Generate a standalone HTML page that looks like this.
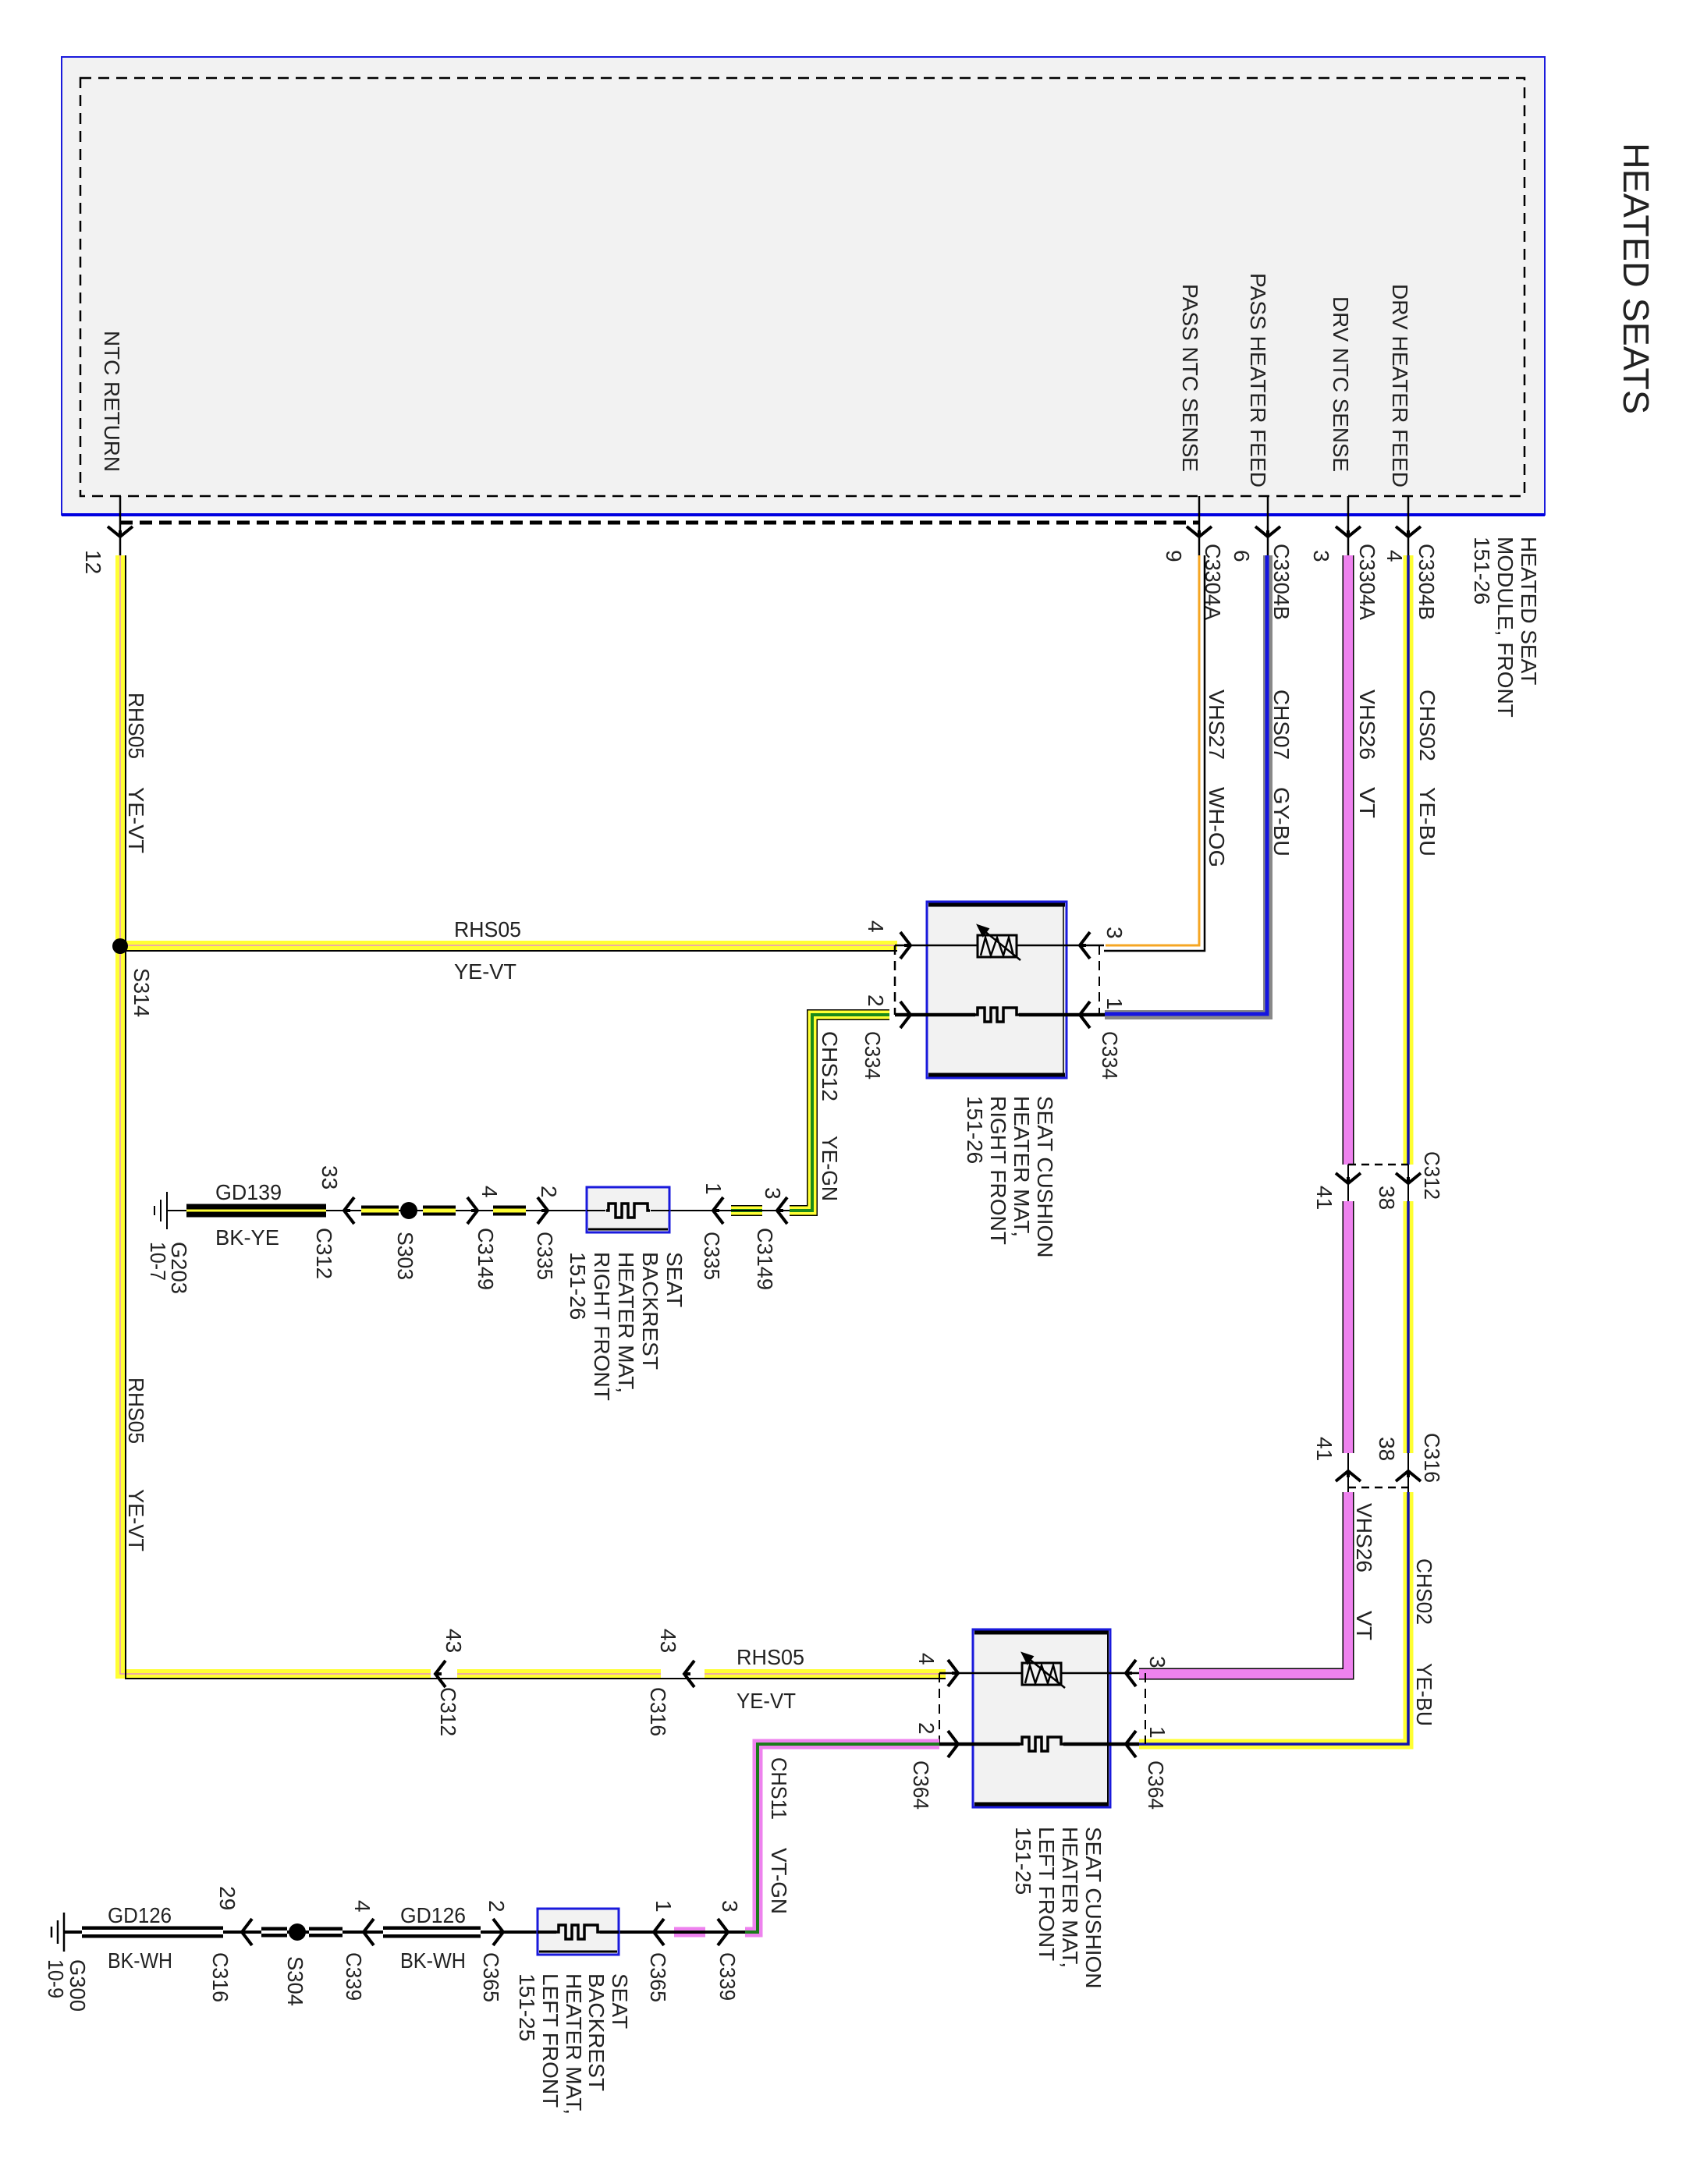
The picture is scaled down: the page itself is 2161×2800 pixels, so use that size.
<!DOCTYPE html>
<html><head><meta charset="utf-8"><style>
html,body{margin:0;padding:0;background:#fff}
svg{display:block}
text{font-family:"Liberation Sans",Arial,sans-serif;fill:#222;font-size:28px}
</style></head><body>
<svg width="2161" height="2800" viewBox="0 0 2161 2800" xmlns="http://www.w3.org/2000/svg">
<defs>
<path id="al" d="M13,-17 L0,0 L13,17 M0,0 H8" fill="none" stroke="#000" stroke-width="4"/>
<path id="ar" d="M-13,-17 L0,0 L-13,17 M0,0 H-8" fill="none" stroke="#000" stroke-width="4"/>
<path id="ad" d="M-16,-13 L0,0 L16,-13 M0,0 V-8" fill="none" stroke="#000" stroke-width="4"/>
<path id="au" d="M-16,13 L0,0 L16,13 M0,0 V8" fill="none" stroke="#000" stroke-width="4"/>
<path id="heat" d="M-28,0 H-25 V-9 H-16 V9 H-8 V-9 H0 V9 H8 V-9 H25 V0 H28" fill="none" stroke="#000" stroke-width="3.5"/>
<g id="therm" fill="none" stroke="#000" stroke-width="3"><rect x="-25" y="-14" width="50" height="28"/><path d="M-21,12 L-15,-11 L-8,12 L0,-11 L8,12 L15,-11 L21,12" stroke-width="2.5"/><path d="M-22,-24 L30,18" stroke-width="2.5"/><path d="M-24,-26 L-12,-22 L-18,-14 Z" fill="#000"/></g>
</defs>

<rect x="79" y="73" width="1901" height="587" fill="#f2f2f2" stroke="#1a1adc" stroke-width="2"/>
<line x1="79" y1="660" x2="1980" y2="660" stroke="#0000e0" stroke-width="4"/>
<rect x="103" y="100" width="1851" height="536" fill="none" stroke="#000" stroke-width="2.5" stroke-dasharray="14,9"/>
<line x1="154" y1="670" x2="1537" y2="670" stroke="#000" stroke-width="5" stroke-dasharray="16,9"/>

<text transform="translate(2081,183) rotate(90)" style="font-size:46px" textLength="348" lengthAdjust="spacingAndGlyphs">HEATED SEATS</text>

<text transform="translate(134,424) rotate(90)" textLength="181" lengthAdjust="spacingAndGlyphs">NTC RETURN</text>
<text transform="translate(1516,364) rotate(90)" textLength="241" lengthAdjust="spacingAndGlyphs">PASS NTC SENSE</text>
<text transform="translate(1603,350) rotate(90)" textLength="275" lengthAdjust="spacingAndGlyphs">PASS HEATER FEED</text>
<text transform="translate(1709,380) rotate(90)" textLength="225" lengthAdjust="spacingAndGlyphs">DRV NTC SENSE</text>
<text transform="translate(1785,364) rotate(90)" textLength="261" lengthAdjust="spacingAndGlyphs">DRV HEATER FEED</text>

<g stroke="#000" stroke-width="2.5">
<line x1="154" y1="636" x2="154" y2="712"/><line x1="1537" y1="636" x2="1537" y2="712"/>
<line x1="1625" y1="636" x2="1625" y2="712"/><line x1="1728" y1="636" x2="1728" y2="712"/>
<line x1="1805" y1="636" x2="1805" y2="712"/>
</g>
<use href="#ad" x="154" y="688"/><use href="#ad" x="1537" y="688"/><use href="#ad" x="1625" y="688"/><use href="#ad" x="1728" y="688"/><use href="#ad" x="1805" y="688"/>

<text transform="translate(110,705) rotate(90)">12</text>
<text transform="translate(1495,705) rotate(90)">9</text>
<text transform="translate(1582,705) rotate(90)">6</text>
<text transform="translate(1684,705) rotate(90)">3</text>
<text transform="translate(1778,705) rotate(90)">4</text>
<text transform="translate(1545,697) rotate(90)" textLength="98" lengthAdjust="spacingAndGlyphs">C3304A</text>
<text transform="translate(1633,697) rotate(90)" textLength="98" lengthAdjust="spacingAndGlyphs">C3304B</text>
<text transform="translate(1743,697) rotate(90)" textLength="98" lengthAdjust="spacingAndGlyphs">C3304A</text>
<text transform="translate(1819,697) rotate(90)" textLength="98" lengthAdjust="spacingAndGlyphs">C3304B</text>
<text transform="translate(1950,688) rotate(90)">HEATED SEAT</text>
<text transform="translate(1920,688) rotate(90)">MODULE, FRONT</text>
<text transform="translate(1890,688) rotate(90)">151-26</text>

<g fill="none">
<path d="M154,712 V2146 H552" stroke="#ffff33" stroke-width="12"/>
<path d="M586,2146 H847 M903,2146 H1212 M154,1212 H1150" stroke="#ffff33" stroke-width="12"/>
<path d="M154,712 V2146 H552 M586,2146 H847 M903,2146 H1212 M154,1212 H1150" stroke="#e890c8" stroke-width="1.5"/>
<path d="M161,712 V2152 H1212 M161,1219 H1150" stroke="#000" stroke-width="2"/>
</g>
<circle cx="154" cy="1213" r="10" fill="#000"/>
<use href="#al" x="558" y="2146"/><use href="#al" x="877" y="2146"/>

<path d="M1537,712 V1212 H1417" fill="none" stroke="#f5a623" stroke-width="3"/>
<path d="M1544,712 V1219 H1415" fill="none" stroke="#000" stroke-width="2.5"/>
<path d="M1625,712 V1301 H1416" fill="none" stroke="#888" stroke-width="12"/>
<path d="M1624,712 V1300 H1416" fill="none" stroke="#1515e0" stroke-width="5"/>
<g fill="none">
<path d="M1728,712 V1493 M1728,1540 V1863 M1728,1913 V2146 H1460" stroke="#000" stroke-width="15"/>
<path d="M1728,712 V1493 M1728,1540 V1863 M1728,1913 V2146 H1460" stroke="#ee82ee" stroke-width="12"/>
<path d="M1728,1493 V1540 M1728,1863 V1913" stroke="#000" stroke-width="2"/>
</g>
<g fill="none">
<path d="M1805,712 V1493 M1805,1540 V1863 M1805,1913 V2236 H1460" stroke="#ffff33" stroke-width="13"/>
<path d="M1805,712 V1493 M1805,1540 V1863 M1805,1913 V2236 H1460" stroke="#1010b0" stroke-width="3.5"/>
<path d="M1805,1493 V1540 M1805,1863 V1913" stroke="#000" stroke-width="2"/>
</g>
<line x1="1728" y1="1493" x2="1805" y2="1493" stroke="#000" stroke-width="2.5" stroke-dasharray="10,7"/>
<use href="#ad" x="1728" y="1517"/><use href="#ad" x="1805" y="1517"/>
<line x1="1728" y1="1907" x2="1805" y2="1907" stroke="#000" stroke-width="2.5" stroke-dasharray="10,7"/>
<use href="#au" x="1728" y="1886"/><use href="#au" x="1805" y="1886"/>
<text transform="translate(1826,1476) rotate(90)" textLength="62" lengthAdjust="spacingAndGlyphs">C312</text>
<text transform="translate(1768,1520) rotate(90)">38</text>
<text transform="translate(1688,1520) rotate(90)">41</text>
<text transform="translate(1826,1837) rotate(90)" textLength="64" lengthAdjust="spacingAndGlyphs">C316</text>
<text transform="translate(1768,1842) rotate(90)">38</text>
<text transform="translate(1688,1842) rotate(90)">41</text>

<text transform="translate(165,888) rotate(90)" textLength="85" lengthAdjust="spacingAndGlyphs">RHS05</text>
<text transform="translate(165,1009) rotate(90)" textLength="85" lengthAdjust="spacingAndGlyphs">YE-VT</text>
<text transform="translate(1550,884) rotate(90)" textLength="90" lengthAdjust="spacingAndGlyphs">VHS27</text>
<text transform="translate(1550,1009) rotate(90)" textLength="103" lengthAdjust="spacingAndGlyphs">WH-OG</text>
<text transform="translate(1633,884) rotate(90)" textLength="90" lengthAdjust="spacingAndGlyphs">CHS07</text>
<text transform="translate(1633,1009) rotate(90)" textLength="89" lengthAdjust="spacingAndGlyphs">GY-BU</text>
<text transform="translate(1743,884) rotate(90)" textLength="90" lengthAdjust="spacingAndGlyphs">VHS26</text>
<text transform="translate(1743,1009) rotate(90)" textLength="40" lengthAdjust="spacingAndGlyphs">VT</text>
<text transform="translate(1820,884) rotate(90)" textLength="92" lengthAdjust="spacingAndGlyphs">CHS02</text>
<text transform="translate(1820,1009) rotate(90)" textLength="89" lengthAdjust="spacingAndGlyphs">YE-BU</text>
<text transform="translate(172,1241) rotate(90)" textLength="63" lengthAdjust="spacingAndGlyphs">S314</text>
<text x="582" y="1201" textLength="86" lengthAdjust="spacingAndGlyphs">RHS05</text>
<text x="582" y="1255" textLength="80" lengthAdjust="spacingAndGlyphs">YE-VT</text>
<text transform="translate(165,1766) rotate(90)" textLength="85" lengthAdjust="spacingAndGlyphs">RHS05</text>
<text transform="translate(165,1909) rotate(90)" textLength="80" lengthAdjust="spacingAndGlyphs">YE-VT</text>
<text transform="translate(1739,1927) rotate(90)" textLength="89" lengthAdjust="spacingAndGlyphs">VHS26</text>
<text transform="translate(1739,2065) rotate(90)" textLength="38" lengthAdjust="spacingAndGlyphs">VT</text>
<text transform="translate(1816,1998) rotate(90)" textLength="85" lengthAdjust="spacingAndGlyphs">CHS02</text>
<text transform="translate(1816,2132) rotate(90)" textLength="81" lengthAdjust="spacingAndGlyphs">YE-BU</text>

<rect x="1188" y="1156" width="179" height="226" fill="#f2f2f2" stroke="#1a1adc" stroke-width="3"/>
<line x1="1190" y1="1160" x2="1365" y2="1160" stroke="#000" stroke-width="5"/>
<line x1="1190" y1="1378" x2="1365" y2="1378" stroke="#000" stroke-width="5"/>
<line x1="1363" y1="1158" x2="1363" y2="1380" stroke="#000" stroke-width="1.5"/>
<line x1="1147" y1="1212" x2="1415" y2="1212" stroke="#000" stroke-width="2.5"/>
<line x1="1147" y1="1301" x2="1250" y2="1301" stroke="#000" stroke-width="4.5"/>
<line x1="1306" y1="1301" x2="1416" y2="1301" stroke="#000" stroke-width="4.5"/>
<line x1="1147" y1="1212" x2="1147" y2="1301" stroke="#000" stroke-width="2.5" stroke-dasharray="12,8"/>
<line x1="1409" y1="1212" x2="1409" y2="1301" stroke="#000" stroke-width="2" stroke-dasharray="12,8"/>
<rect x="1254" y="1199" width="48" height="27" fill="#f2f2f2"/>
<use href="#therm" x="1278" y="1213"/><use href="#heat" x="1278" y="1301"/>
<use href="#ar" x="1167" y="1212"/><use href="#ar" x="1167" y="1301"/>
<use href="#al" x="1384" y="1212"/><use href="#al" x="1384" y="1301"/>
<text transform="translate(1113,1180) rotate(90)">4</text>
<text transform="translate(1419,1188) rotate(90)">3</text>
<text transform="translate(1113,1275) rotate(90)">2</text>
<text transform="translate(1419,1279) rotate(90)">1</text>
<text transform="translate(1413,1322) rotate(90)" textLength="62" lengthAdjust="spacingAndGlyphs">C334</text>
<text transform="translate(1109,1322) rotate(90)" textLength="62" lengthAdjust="spacingAndGlyphs">C334</text>
<text transform="translate(1330,1405) rotate(90)">SEAT CUSHION</text>
<text transform="translate(1300,1405) rotate(90)">HEATER MAT,</text>
<text transform="translate(1270,1405) rotate(90)">RIGHT FRONT</text>
<text transform="translate(1240,1405) rotate(90)">151-26</text>

<g fill="none">
<path d="M1140,1301 H1041 V1552 H1012 M937,1552 H977" stroke="#000" stroke-width="14"/>
<path d="M1140,1301 H1041 V1552 H1012 M937,1552 H977" stroke="#ffff33" stroke-width="11"/>
<path d="M1140,1301 H1041 V1552 H1012 M937,1552 H977" stroke="#1a8a1a" stroke-width="4"/>
</g>
<text transform="translate(1054,1322) rotate(90)" textLength="90" lengthAdjust="spacingAndGlyphs">CHS12</text>
<text transform="translate(1054,1456) rotate(90)" textLength="84" lengthAdjust="spacingAndGlyphs">YE-GN</text>

<line x1="214" y1="1552" x2="1012" y2="1552" stroke="#000" stroke-width="2"/>
<g stroke="#000" stroke-width="2"><line x1="214" y1="1528" x2="214" y2="1576"/><line x1="206" y1="1538" x2="206" y2="1566"/><line x1="198" y1="1546" x2="198" y2="1558"/></g>
<line x1="239" y1="1552" x2="418" y2="1552" stroke="#000" stroke-width="17"/>
<line x1="239" y1="1552" x2="418" y2="1552" stroke="#ffff33" stroke-width="3"/>
<path d="M463,1552 H511 M542,1552 H584 M632,1552 H674" stroke="#000" stroke-width="13"/>
<path d="M463,1552 H511 M542,1552 H584 M632,1552 H674" stroke="#ffff33" stroke-width="5"/>
<circle cx="524" cy="1552" r="11" fill="#000"/>
<use href="#al" x="441" y="1552"/><use href="#ar" x="612" y="1552"/><use href="#ar" x="702" y="1552"/>
<use href="#al" x="914" y="1552"/><use href="#al" x="996" y="1552"/>
<rect x="752" y="1522" width="106" height="58" fill="#f2f2f2" stroke="#1a1adc" stroke-width="3"/>
<line x1="754" y1="1576" x2="856" y2="1576" stroke="#000" stroke-width="3"/>
<line x1="752" y1="1552" x2="776" y2="1552" stroke="#000" stroke-width="2"/>
<line x1="834" y1="1552" x2="858" y2="1552" stroke="#000" stroke-width="2"/>
<use href="#heat" x="805" y="1552"/>
<text transform="translate(981,1522) rotate(90)">3</text>
<text transform="translate(971,1574) rotate(90)" textLength="80" lengthAdjust="spacingAndGlyphs">C3149</text>
<text transform="translate(905,1516) rotate(90)">1</text>
<text transform="translate(903,1579) rotate(90)" textLength="62" lengthAdjust="spacingAndGlyphs">C335</text>
<text transform="translate(694,1520) rotate(90)">2</text>
<text transform="translate(689,1579) rotate(90)" textLength="62" lengthAdjust="spacingAndGlyphs">C335</text>
<text transform="translate(618,1520) rotate(90)">4</text>
<text transform="translate(613,1574) rotate(90)" textLength="80" lengthAdjust="spacingAndGlyphs">C3149</text>
<text transform="translate(510,1579) rotate(90)" textLength="62" lengthAdjust="spacingAndGlyphs">S303</text>
<text transform="translate(413,1494) rotate(90)">33</text>
<text transform="translate(406,1574) rotate(90)" textLength="66" lengthAdjust="spacingAndGlyphs">C312</text>
<text x="276" y="1538" textLength="85" lengthAdjust="spacingAndGlyphs">GD139</text>
<text x="276" y="1596" textLength="82" lengthAdjust="spacingAndGlyphs">BK-YE</text>
<text transform="translate(220,1592) rotate(90)" textLength="67" lengthAdjust="spacingAndGlyphs">G203</text>
<text transform="translate(193,1592) rotate(90)" textLength="50" lengthAdjust="spacingAndGlyphs">10-7</text>
<text transform="translate(855,1605) rotate(90)">SEAT</text>
<text transform="translate(824,1605) rotate(90)">BACKREST</text>
<text transform="translate(793,1605) rotate(90)">HEATER MAT,</text>
<text transform="translate(762,1605) rotate(90)">RIGHT FRONT</text>
<text transform="translate(731,1605) rotate(90)">151-26</text>

<rect x="1247" y="2089" width="176" height="228" fill="#f2f2f2" stroke="#1a1adc" stroke-width="3"/>
<line x1="1249" y1="2093" x2="1421" y2="2093" stroke="#000" stroke-width="5"/>
<line x1="1249" y1="2313" x2="1421" y2="2313" stroke="#000" stroke-width="5"/>
<line x1="1420" y1="2091" x2="1420" y2="2315" stroke="#000" stroke-width="2"/>
<line x1="1204" y1="2145" x2="1460" y2="2145" stroke="#000" stroke-width="2.5"/>
<line x1="1204" y1="2236" x2="1307" y2="2236" stroke="#000" stroke-width="4.5"/>
<line x1="1363" y1="2236" x2="1460" y2="2236" stroke="#000" stroke-width="4.5"/>
<line x1="1204" y1="2145" x2="1204" y2="2236" stroke="#000" stroke-width="2" stroke-dasharray="12,8"/>
<line x1="1468" y1="2145" x2="1468" y2="2236" stroke="#000" stroke-width="2" stroke-dasharray="12,8"/>
<rect x="1311" y="2132" width="48" height="27" fill="#f2f2f2"/>
<use href="#therm" x="1335" y="2146"/><use href="#heat" x="1335" y="2236"/>
<use href="#ar" x="1228" y="2145"/><use href="#ar" x="1228" y="2236"/>
<use href="#al" x="1443" y="2145"/><use href="#al" x="1443" y="2236"/>
<text transform="translate(1178,2119) rotate(90)">4</text>
<text transform="translate(1474,2123) rotate(90)">3</text>
<text transform="translate(1178,2208) rotate(90)">2</text>
<text transform="translate(1474,2213) rotate(90)">1</text>
<text transform="translate(1472,2257) rotate(90)" textLength="63" lengthAdjust="spacingAndGlyphs">C364</text>
<text transform="translate(1171,2257) rotate(90)" textLength="63" lengthAdjust="spacingAndGlyphs">C364</text>
<text transform="translate(1392,2342) rotate(90)">SEAT CUSHION</text>
<text transform="translate(1362,2342) rotate(90)">HEATER MAT,</text>
<text transform="translate(1332,2342) rotate(90)">LEFT FRONT</text>
<text transform="translate(1302,2342) rotate(90)">151-25</text>

<text x="944" y="2134" textLength="87" lengthAdjust="spacingAndGlyphs">RHS05</text>
<text x="944" y="2190" textLength="76" lengthAdjust="spacingAndGlyphs">YE-VT</text>
<text transform="translate(847,2088) rotate(90)">43</text>
<text transform="translate(834,2163) rotate(90)" textLength="63" lengthAdjust="spacingAndGlyphs">C316</text>
<text transform="translate(572,2088) rotate(90)">43</text>
<text transform="translate(565,2163) rotate(90)" textLength="63" lengthAdjust="spacingAndGlyphs">C312</text>

<g fill="none">
<path d="M1204,2236 H971 V2477 H955 M864,2477 H904" stroke="#ee82ee" stroke-width="13"/>
<path d="M1204,2236 H971 V2477 H955 M864,2477 H904" stroke="#1a7a1a" stroke-width="4"/>
</g>
<text transform="translate(989,2253) rotate(90)" textLength="80" lengthAdjust="spacingAndGlyphs">CHS11</text>
<text transform="translate(989,2369) rotate(90)" textLength="85" lengthAdjust="spacingAndGlyphs">VT-GN</text>

<line x1="83" y1="2477" x2="955" y2="2477" stroke="#000" stroke-width="4"/>
<g stroke="#000" stroke-width="2.5"><line x1="82" y1="2452" x2="82" y2="2502"/><line x1="74" y1="2462" x2="74" y2="2492"/><line x1="66" y1="2470" x2="66" y2="2484"/></g>
<path d="M105,2477 H286 M491,2477 H616" stroke="#000" stroke-width="15"/>
<path d="M105,2477 H286 M491,2477 H616" stroke="#fff" stroke-width="6"/>
<path d="M335,2477 H368 M396,2477 H439" stroke="#000" stroke-width="13"/>
<path d="M335,2477 H368 M396,2477 H439" stroke="#fff" stroke-width="4"/>
<circle cx="381" cy="2477" r="11" fill="#000"/>
<use href="#al" x="310" y="2477"/><use href="#al" x="466" y="2477"/><use href="#ar" x="645" y="2477"/>
<use href="#al" x="838" y="2477"/><use href="#ar" x="933" y="2477"/>
<rect x="689" y="2447" width="104" height="59" fill="#f2f2f2" stroke="#1a1adc" stroke-width="3"/>
<line x1="691" y1="2502" x2="791" y2="2502" stroke="#000" stroke-width="3"/>
<line x1="689" y1="2477" x2="713" y2="2477" stroke="#000" stroke-width="4"/>
<line x1="769" y1="2477" x2="793" y2="2477" stroke="#000" stroke-width="4"/>
<use href="#heat" x="741" y="2477"/>
<text transform="translate(926,2436) rotate(90)">3</text>
<text transform="translate(923,2503) rotate(90)" textLength="62" lengthAdjust="spacingAndGlyphs">C339</text>
<text transform="translate(841,2436) rotate(90)">1</text>
<text transform="translate(834,2503) rotate(90)" textLength="64" lengthAdjust="spacingAndGlyphs">C365</text>
<text transform="translate(627,2436) rotate(90)">2</text>
<text transform="translate(620,2503) rotate(90)" textLength="64" lengthAdjust="spacingAndGlyphs">C365</text>
<text x="513" y="2465" textLength="84" lengthAdjust="spacingAndGlyphs">GD126</text>
<text x="513" y="2523" textLength="84" lengthAdjust="spacingAndGlyphs">BK-WH</text>
<text transform="translate(455,2436) rotate(90)">4</text>
<text transform="translate(444,2503) rotate(90)" textLength="62" lengthAdjust="spacingAndGlyphs">C339</text>
<text transform="translate(369,2508) rotate(90)" textLength="64" lengthAdjust="spacingAndGlyphs">S304</text>
<text transform="translate(282,2418) rotate(90)">29</text>
<text transform="translate(273,2503) rotate(90)" textLength="64" lengthAdjust="spacingAndGlyphs">C316</text>
<text x="138" y="2465" textLength="82" lengthAdjust="spacingAndGlyphs">GD126</text>
<text x="138" y="2523" textLength="83" lengthAdjust="spacingAndGlyphs">BK-WH</text>
<text transform="translate(90,2512) rotate(90)" textLength="67" lengthAdjust="spacingAndGlyphs">G300</text>
<text transform="translate(62,2512) rotate(90)" textLength="50" lengthAdjust="spacingAndGlyphs">10-9</text>
<text transform="translate(785,2530) rotate(90)">SEAT</text>
<text transform="translate(755,2530) rotate(90)">BACKREST</text>
<text transform="translate(726,2530) rotate(90)">HEATER MAT,</text>
<text transform="translate(696,2530) rotate(90)">LEFT FRONT</text>
<text transform="translate(666,2530) rotate(90)">151-25</text>
</svg>
</body></html>
